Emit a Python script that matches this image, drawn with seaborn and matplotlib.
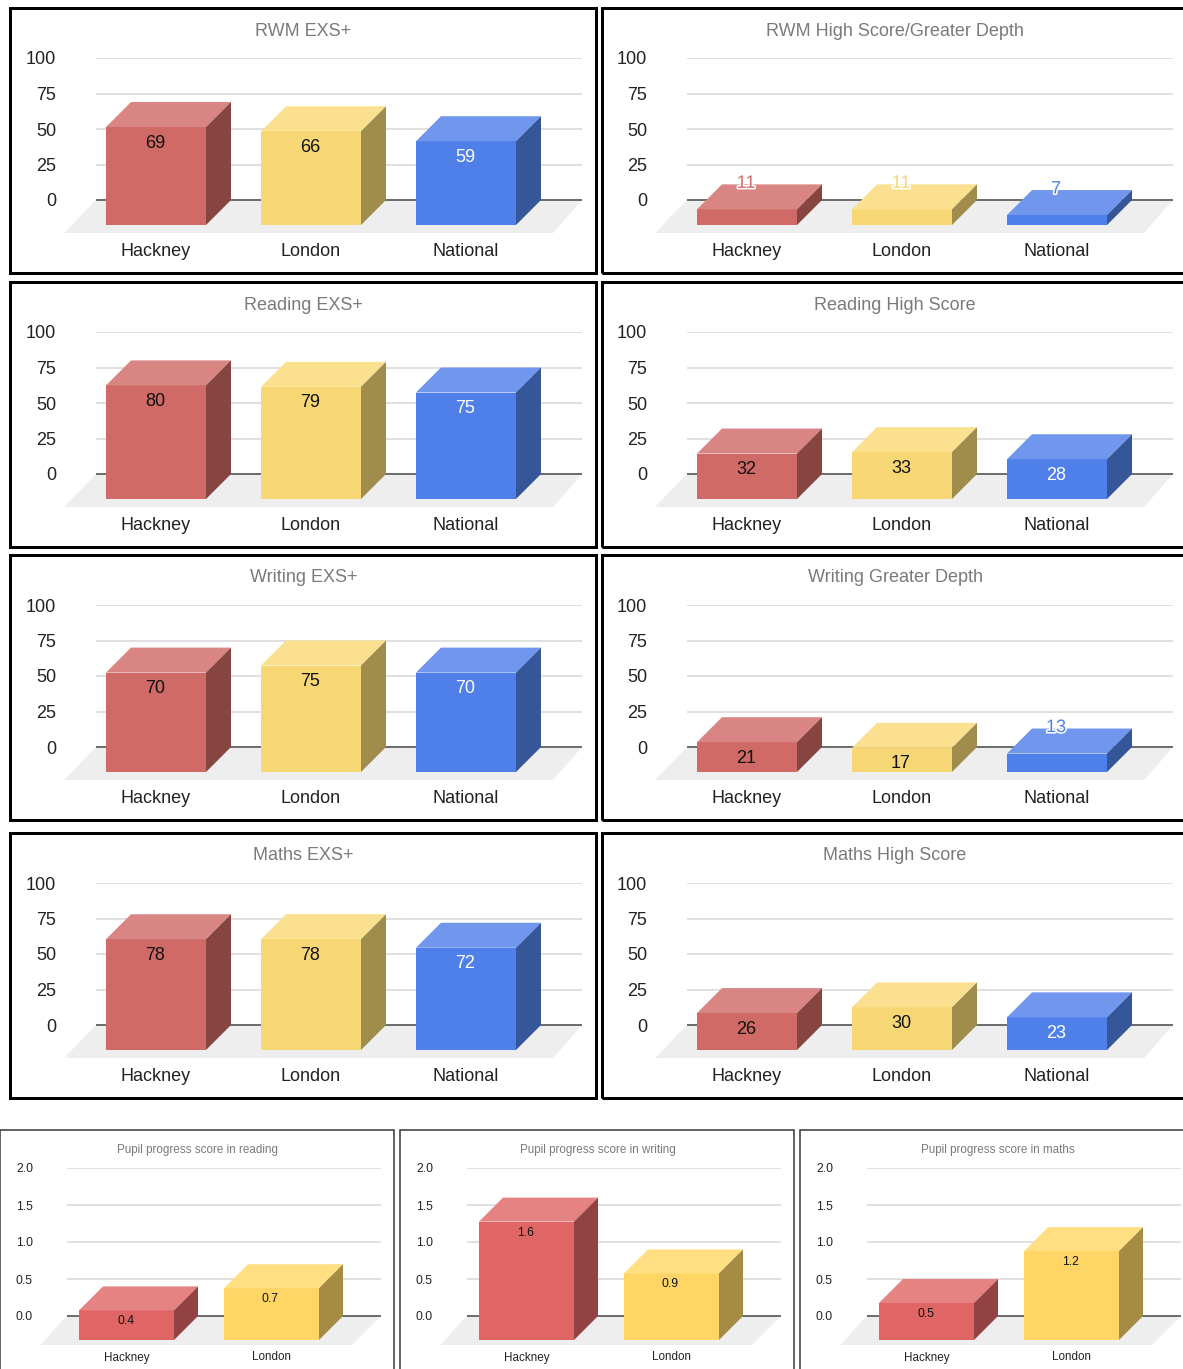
import matplotlib
matplotlib.use("Agg")
import matplotlib.pyplot as plt
import matplotlib.patheffects as pe
from matplotlib.patches import Polygon, Rectangle
import pandas as pd
import seaborn as sns

# ---- data ----
areas = ["Hackney", "London", "National"]
rwm_exs = [69, 66, 59]
rwm_high = [11, 11, 7]
reading_exs = [80, 79, 75]
reading_high = [32, 33, 28]
writing_exs = [70, 75, 70]
writing_high = [21, 17, 13]
maths_exs = [78, 78, 72]
maths_high = [26, 30, 23]
progress_areas = ["Hackney", "London"]
progress_reading = [0.4, 0.7]
progress_writing = [1.6, 0.9]
progress_maths = [0.5, 1.2]
pct_ticks = [0, 25, 50, 75, 100]
progress_ticks = [0.0, 0.5, 1.0, 1.5, 2.0]

W, H = 1183, 1369
sns.set_theme(style="white")
plt.rcParams["font.family"] = ["Liberation Sans", "DejaVu Sans"]
fig = plt.figure(figsize=(W / 100, H / 100), dpi=100, facecolor="white")
PT = 72 / 100  # points per pixel

UPPER = {"front": ["#D06A66", "#F7D774", "#4F80EA"],
         "top": ["#D88583", "#FAE08F", "#7097ED"],
         "side": ["#864541", "#A08D4C", "#355698"]}
LOWER = {"front": ["#E06666", "#FFD666"],
         "top": ["#E58282", "#FFDF82"],
         "side": ["#924242", "#A68B42"]}


def panel(title, cats, vals, ticks, tick_fmt, colors, frame, grid_x, grid_y, first_c,
          spacing, bar_w, depth, floor_drop, floor_shift, lw, fs, xfs, tfs, title_xy, tick_pad,
          x_pad, label_fs, below, above, min_inside, frame_color):
    fx0, fy0, fx1, fy1 = frame
    gx0, gx1 = grid_x
    gtop, gzero = grid_y
    gbot = gzero + floor_drop
    ax = fig.add_axes([gx0 / W, 1 - gbot / H, (gx1 - gx0) / W, (gbot - gtop) / H])
    ax.patch.set_alpha(0)
    ymax = ticks[-1]
    px_per_val = (gzero - gtop) / ymax
    dy = depth / px_per_val
    dx = depth / spacing
    df = pd.DataFrame({"area": cats, "value": vals})
    sns.barplot(data=df, x="area", y="value", hue="area", palette=colors["front"],
                width=bar_w / spacing, dodge=False, legend=False, ax=ax,
                bottom=-dy, linewidth=0, saturation=1, zorder=3, clip_on=False)
    xmin = -(first_c - gx0) / spacing
    xmax = (gx1 - first_c) / spacing
    ymin = -floor_drop / px_per_val
    ax.set_xlim(xmin, xmax)
    ax.set_ylim(ymin, ymax)
    ax.set_xlabel("")
    ax.set_ylabel("")
    for s in ax.spines.values():
        s.set_visible(False)

    ax.set_yticks(ticks)
    ax.set_yticklabels([tick_fmt.format(t) for t in ticks], fontsize=fs, color="#222222")
    ax.tick_params(axis="y", length=0, pad=tick_pad * PT)
    ax.tick_params(axis="x", length=0, pad=x_pad * PT, labelsize=xfs, labelcolor="#222222")
    for t in ticks[1:]:
        ax.axhline(t, color="#E0E0E0", lw=2 * PT, zorder=1)
    shift = floor_shift / spacing
    ax.add_patch(Polygon([(xmin, 0), (xmax, 0), (xmax - 29 / spacing, ymin), (xmin - shift, ymin)],
                         closed=True, fc="#EEEEEE", ec="none", zorder=0.5, clip_on=False))
    ax.axhline(0, color="#6E6E6E", lw=2 * PT, zorder=2)

    # extrude each bar drawn by seaborn
    for i, (bar, v) in enumerate(zip(ax.patches[:len(vals)], vals)):
        x0 = bar.get_x()
        x1 = x0 + bar.get_width()
        y0 = bar.get_y()
        y1 = y0 + bar.get_height()
        ax.add_patch(Polygon([(x0, y1), (x1, y1), (x1 + dx, y1 + dy), (x0 + dx, y1 + dy)],
                             closed=True, fc=colors["top"][i], ec="none", zorder=3, clip_on=False))
        ax.add_patch(Polygon([(x1, y0), (x1 + dx, y0 + dy), (x1 + dx, y1 + dy), (x1, y1)],
                             closed=True, fc=colors["side"][i], ec="none", zorder=3, clip_on=False))
        cx = (x0 + x1) / 2
        txt = tick_fmt.format(v)
        if v * px_per_val >= min_inside:
            col = "white" if colors["front"][i] == "#4F80EA" else "#111111"
            ax.annotate(txt, (cx, y1), xytext=(-1 * PT, -below * PT), textcoords="offset points",
                        ha="center", va="center", fontsize=label_fs, color=col, zorder=5)
        else:
            t = ax.annotate(txt, (cx, y1), xytext=(-1 * PT, above * PT), textcoords="offset points",
                            ha="center", va="center", fontsize=label_fs, color=colors["front"][i], zorder=5)
            t.set_path_effects([pe.withStroke(linewidth=2.2, foreground="white")])

    fig.text(title_xy[0] / W, 1 - title_xy[1] / H, title, ha="center", va="center",
             fontsize=tfs, color="#7A7A7A")
    fig.add_artist(Rectangle((fx0 / W, 1 - fy1 / H), (fx1 - fx0) / W, (fy1 - fy0) / H, fill=False,
                             ec=frame_color, lw=lw * PT, transform=fig.transFigure))


upper_rows = [
    (("RWM EXS+", rwm_exs), ("RWM High Score/Greater Depth", rwm_high), 8, 273, 31, 58),
    (("Reading EXS+", reading_exs), ("Reading High Score", reading_high), 282, 547, 305, 332),
    (("Writing EXS+", writing_exs), ("Writing Greater Depth", writing_high), 555, 820, 578, 605),
    (("Maths EXS+", maths_exs), ("Maths High Score", maths_high), 833, 1098, 856, 883),
]
for left, right, fy0, fy1, ty, gtop in upper_rows:
    for (title, vals), off, fx0, fx1, tx in ((left, 0, 10, 596, 303.5), (right, 591, 602, 1195, 895)):
        panel(title, areas, vals, pct_ticks, "{:d}", UPPER, (fx0, fy0, fx1, fy1),
              (96 + off, 582 + off), (gtop, gtop + 142), 156 + off, 155, 100, 25, 33, 32, 3,
              13, 13, 13, (tx, ty), 40, 10, 13, 16, 26, 20, "#000000")

lower = [("Pupil progress score in reading", progress_reading, 0, 197.5),
         ("Pupil progress score in writing", progress_writing, 400, 197.5),
         ("Pupil progress score in maths", progress_maths, 800, 197.5)]
for title, vals, off, tx in lower:
    panel(title, progress_areas, vals, progress_ticks, "{:.1f}", LOWER,
          (off, 1130, off + 394, 1380), (67 + off, 381 + off), (1168, 1316), 126.5 + off, 145, 95,
          24, 29, 27, 1.5, 8.8, 8.4, 8.4, (tx + off, 1149.5), 34, 6.5, 8.8, 11, 20, 8, "#333333")

fig.savefig("out.png", dpi=100, facecolor="white")
